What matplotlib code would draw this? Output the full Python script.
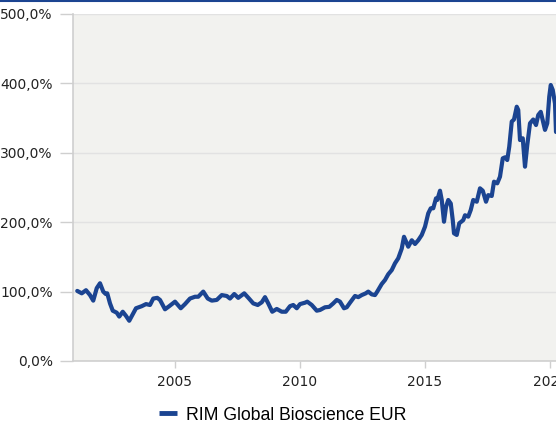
import matplotlib
matplotlib.use("Agg")
import matplotlib.pyplot as plt
from matplotlib.lines import Line2D
from matplotlib.ticker import FuncFormatter

# data (decimal year, % of start value)
years = [2001.09, 2001.27, 2001.44, 2001.60, 2001.73, 2001.87, 2002.00, 2002.13, 2002.23, 2002.29,
         2002.40, 2002.51, 2002.67, 2002.77, 2002.91, 2003.04, 2003.17, 2003.33, 2003.44, 2003.67,
         2003.84, 2004.00, 2004.13, 2004.29, 2004.40, 2004.60, 2004.77, 2005.00, 2005.23, 2005.40,
         2005.60, 2005.80, 2005.93, 2006.13, 2006.31, 2006.47, 2006.67, 2006.87, 2007.07, 2007.20,
         2007.37, 2007.53, 2007.77, 2007.96, 2008.13, 2008.31, 2008.47, 2008.60, 2008.73, 2008.89,
         2009.07, 2009.27, 2009.43, 2009.60, 2009.73, 2009.87, 2010.00, 2010.20, 2010.29, 2010.47,
         2010.67, 2010.80, 2011.00, 2011.17, 2011.33, 2011.47, 2011.60, 2011.76, 2011.87, 2012.00,
         2012.20, 2012.33, 2012.47, 2012.63, 2012.73, 2012.87, 2013.00, 2013.09, 2013.27, 2013.40,
         2013.53, 2013.67, 2013.80, 2013.93, 2014.07, 2014.16, 2014.33, 2014.47, 2014.60, 2014.73,
         2014.87, 2015.00, 2015.13, 2015.23, 2015.33, 2015.44, 2015.49, 2015.60, 2015.67, 2015.76,
         2015.84, 2015.93, 2016.03, 2016.11, 2016.16, 2016.27, 2016.37, 2016.53, 2016.60, 2016.73,
         2016.83, 2016.93, 2017.07, 2017.20, 2017.31, 2017.44, 2017.53, 2017.67, 2017.76, 2017.89,
         2018.00, 2018.11, 2018.20, 2018.29, 2018.37, 2018.47, 2018.56, 2018.67, 2018.73, 2018.80,
         2018.91, 2019.00, 2019.09, 2019.20, 2019.33, 2019.44, 2019.53, 2019.63, 2019.71, 2019.80,
         2019.89, 2019.97, 2020.03, 2020.11, 2020.20, 2020.24]
values = [101, 97.5, 102, 95, 87, 105, 112, 100, 96.5, 97.5,
          83, 72.5, 69.6, 64, 71, 65, 58, 68.7, 76, 79,
          82, 80.7, 90, 91, 88, 74.5, 79, 85.5, 76, 82,
          90, 92.6, 92.6, 100, 90, 87, 88, 95, 93.7, 90,
          96.5, 91, 97.5, 90, 83, 80.7, 84.6, 92, 83, 71,
          75, 71, 71, 79, 80.7, 76, 82, 84, 85.5, 80.7,
          72.5, 73.5, 77.4, 78, 83, 88, 85.5, 76, 77.4, 84,
          93.7, 92, 95, 97.5, 100, 96, 95, 100, 111, 116.7,
          125, 131, 140.8, 148, 162, 179, 164.7, 174, 168.6, 174,
          181.6, 193.5, 212.8, 220, 220, 234.4, 232, 245.4, 232, 200.7,
          222, 232, 227, 203, 184, 181.6, 198.4, 203, 210, 208,
          217.6, 232, 229.5, 248.8, 245.4, 229.5, 239, 237.8, 258.4, 256,
          265.6, 292, 293.5, 289.6, 308.8, 345, 348, 366.4, 361.7, 318.4,
          320.9, 280, 311, 342.5, 348, 340, 354.5, 359, 347, 333,
          342.5, 380.8, 397.7, 390.5, 371, 330]

series_name = "RIM Global Bioscience EUR"
y_ticks = [0, 100, 200, 300, 400, 500]
x_ticks = [2005, 2010, 2015, 2020]

line_color = "#1b4491"
grid_color = "#e2e2e2"
spine_color = "#cfcfcf"

fig = plt.figure(figsize=(5.56, 4.26), dpi=100)
ax = fig.add_axes([73 / 556, 65 / 426, 483 / 556, 347 / 426])
ax.set_facecolor("#f2f2ef")

ax.plot(years, values, color=line_color, lw=3.0, solid_joinstyle="round",
        solid_capstyle="round", label=series_name)

ax.set_xlim(2000.92, 2020.24)
ax.set_ylim(0, 500)
ax.set_yticks(y_ticks)
ax.set_xticks(x_ticks)
ax.yaxis.set_major_formatter(FuncFormatter(lambda v, p: f"{v:.1f}%".replace(".", ",")))
ax.grid(axis="y", color=grid_color, lw=1)
ax.set_axisbelow(True)

for s in ["top", "right"]:
    ax.spines[s].set_visible(False)
for s in ["left", "bottom"]:
    ax.spines[s].set_color(spine_color)
    ax.spines[s].set_linewidth(1.2)

ax.tick_params(axis="y", length=9.5, width=1, color=spine_color, pad=5, labelsize=10, labelcolor="#222222")
ax.tick_params(axis="x", length=5, width=1, color=spine_color, pad=5, labelsize=10, labelcolor="#222222")

leg = fig.legend(loc="center", bbox_to_anchor=(283 / 556, 1 - 415 / 426), frameon=False,
                 handlelength=1.0, handletextpad=0.55, prop={"family": "Liberation Sans", "size": 12.7})
for h in leg.get_lines():
    h.set_linewidth(3.5)
    h.set_solid_capstyle("butt")

# dark blue rule at very top of figure
fig.add_artist(Line2D([0, 1], [1 - 1 / 426, 1 - 1 / 426], color=line_color, lw=1.5,
                      transform=fig.transFigure))

fig.savefig("out.png", dpi=100)
